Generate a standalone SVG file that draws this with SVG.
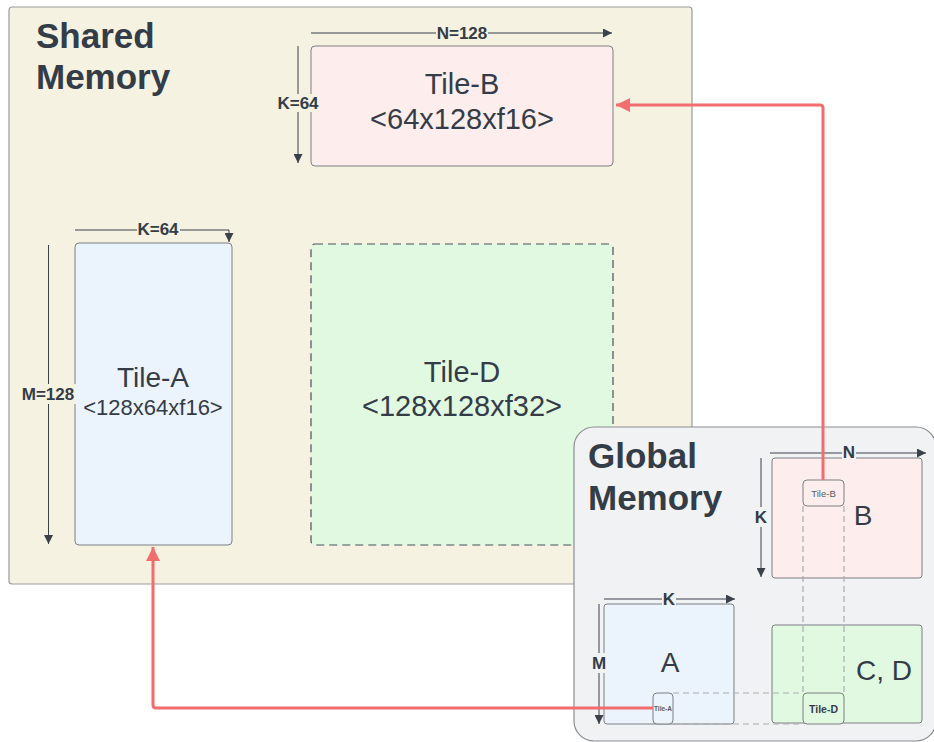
<svg xmlns="http://www.w3.org/2000/svg" width="934" height="742" viewBox="0 0 934 742">
<defs>
<marker id="dim" viewBox="0 0 10 10" refX="10" refY="5" markerWidth="9" markerHeight="9" markerUnits="userSpaceOnUse" orient="auto"><path d="M0,0 L10,5 L0,10 z" fill="#3a414a"/></marker>
<marker id="red" viewBox="0 0 10 10" refX="10" refY="5" markerWidth="14" markerHeight="14" markerUnits="userSpaceOnUse" orient="auto"><path d="M0,0 L10,5 L0,10 z" fill="#f26d6d"/></marker>
<style>
text{font-family:"Liberation Sans",Arial,sans-serif;fill:#343c47}
.title{font-size:35px;font-weight:bold}
.big{font-size:29px}
.dimlbl{font-size:17px;font-weight:bold}
.dim{stroke:#3a414a;stroke-width:1;fill:none}
.box{stroke:#7d7f82;stroke-width:1}
.red{stroke:#f26d6d;stroke-width:3;fill:none;stroke-linejoin:round}
.dash{stroke:#a9abae;stroke-width:1.2;stroke-dasharray:6 4;fill:none}
</style>
</defs>
<g id="shared-memory">
<rect x="9" y="7" width="683" height="577" rx="3" fill="#f5f2e2" stroke="#9b9b9b" stroke-width="1.2"/>
<text class="title" x="36" y="48">Shared</text>
<text class="title" x="36" y="89">Memory</text>
</g>
<g id="tile-b">
<rect class="box" x="311" y="46" width="302" height="120" rx="4" fill="#fdeeed"/>
<text class="big" x="462" y="94" text-anchor="middle" font-size="28">Tile-B</text>
<text class="big" x="462" y="129" text-anchor="middle">&lt;64x128xf16&gt;</text>
</g>
<g id="tile-a">
<rect class="box" x="75" y="243" width="157" height="302" rx="4" fill="#ebf3fd"/>
<text class="big" x="153" y="387" text-anchor="middle" style="font-size:28px">Tile-A</text>
<text x="153" y="415" text-anchor="middle" font-size="22">&lt;128x64xf16&gt;</text>
</g>
<g id="tile-d">
<rect x="311" y="244" width="302" height="301" rx="4" fill="#e1f9e1" stroke="#4a5058" stroke-width="1.2" stroke-dasharray="8 5"/>
<text class="big" x="462" y="382" text-anchor="middle">Tile-D</text>
<text class="big" x="462" y="416" text-anchor="middle">&lt;128x128xf32&gt;</text>
</g>
<g id="global-memory">
<rect x="574" y="427" width="362" height="314" rx="20" fill="#f1f2f4" stroke="#8a8c90" stroke-width="1.2"/>
<text class="title" x="588" y="468">Global</text>
<text class="title" x="588" y="510">Memory</text>
</g>
<g id="matrix-b">
<rect class="box" x="772" y="458" width="150" height="120" rx="3" fill="#fdeeed"/>
<text x="863" y="525" text-anchor="middle" font-size="28">B</text>
</g>
<g id="matrix-a">
<rect class="box" x="604" y="604" width="130" height="120" rx="3" fill="#ebf3fd"/>
<text x="670" y="672" text-anchor="middle" font-size="28">A</text>
</g>
<g id="matrix-cd">
<rect class="box" x="772" y="625" width="150" height="98" rx="3" fill="#e1f9e1"/>
<text x="884" y="680" text-anchor="middle" font-size="28">C, D</text>
</g>
<g id="dashed-guides">
<path class="dash" d="M803,506 V693 M844,506 V693 M673,693 H803 M673,724 H803"/>
</g>
<g id="small-tile-b">
<rect class="box" x="803" y="480" width="41" height="26" rx="4" fill="#fdeeed"/>
<text x="823.5" y="497" text-anchor="middle" font-size="9.5" style="fill:#555b63">Tile-B</text>
</g>
<g id="small-tile-a">
<rect class="box" x="653" y="693" width="20" height="31" rx="4" fill="#ebf3fd"/>
<text x="663" y="711" text-anchor="middle" font-size="6.5" font-weight="bold" style="fill:#555b63">Tile-A</text>
</g>
<g id="small-tile-d">
<rect class="box" x="803" y="693" width="41" height="31" rx="4" fill="#e1f9e1"/>
<text x="823.5" y="713" text-anchor="middle" font-size="10.5" font-weight="bold">Tile-D</text>
</g>
<g id="dimensions">
<line class="dim" x1="311" y1="33" x2="612" y2="33" marker-end="url(#dim)"/>
<rect x="436" y="25" width="52" height="14" fill="#f5f2e2"/>
<text class="dimlbl" x="462" y="39" text-anchor="middle">N=128</text>
<line class="dim" x1="298" y1="46" x2="298" y2="163" marker-end="url(#dim)"/>
<rect x="278" y="94" width="40" height="18" fill="#f5f2e2"/>
<text class="dimlbl" x="298" y="109" text-anchor="middle">K=64</text>
<polyline class="dim" points="75,230 229,230 229,242" marker-end="url(#dim)"/>
<rect x="137" y="222" width="43" height="14" fill="#f5f2e2"/>
<text class="dimlbl" x="158" y="235" text-anchor="middle">K=64</text>
<line class="dim" x1="48.5" y1="245" x2="48.5" y2="544" marker-end="url(#dim)"/>
<rect x="21" y="384" width="55" height="20" fill="#f5f2e2"/>
<text class="dimlbl" x="48" y="400" text-anchor="middle">M=128</text>
<line class="dim" x1="770" y1="453" x2="926" y2="453" marker-end="url(#dim)"/>
<rect x="842" y="445" width="14" height="14" fill="#f1f2f4"/>
<text class="dimlbl" x="849" y="458" text-anchor="middle">N</text>
<line class="dim" x1="761" y1="458" x2="761" y2="577" marker-end="url(#dim)"/>
<rect x="754" y="507" width="14" height="20" fill="#f1f2f4"/>
<text class="dimlbl" x="761" y="523" text-anchor="middle">K</text>
<line class="dim" x1="604" y1="599" x2="735" y2="599" marker-end="url(#dim)"/>
<rect x="662" y="591" width="14" height="14" fill="#f1f2f4"/>
<text class="dimlbl" x="669" y="605" text-anchor="middle">K</text>
<line class="dim" x1="599" y1="604" x2="599" y2="724" marker-end="url(#dim)"/>
<rect x="590" y="653" width="18" height="20" fill="#f1f2f4"/>
<text class="dimlbl" x="599" y="669" text-anchor="middle">M</text>
</g>
<g id="connectors">
<path class="red" d="M823,480 V108 Q823,105 820,105 H616" marker-end="url(#red)"/>
<path class="red" d="M653,708 H156 Q153,708 153,705 V547" marker-end="url(#red)"/>
</g>
</svg>
